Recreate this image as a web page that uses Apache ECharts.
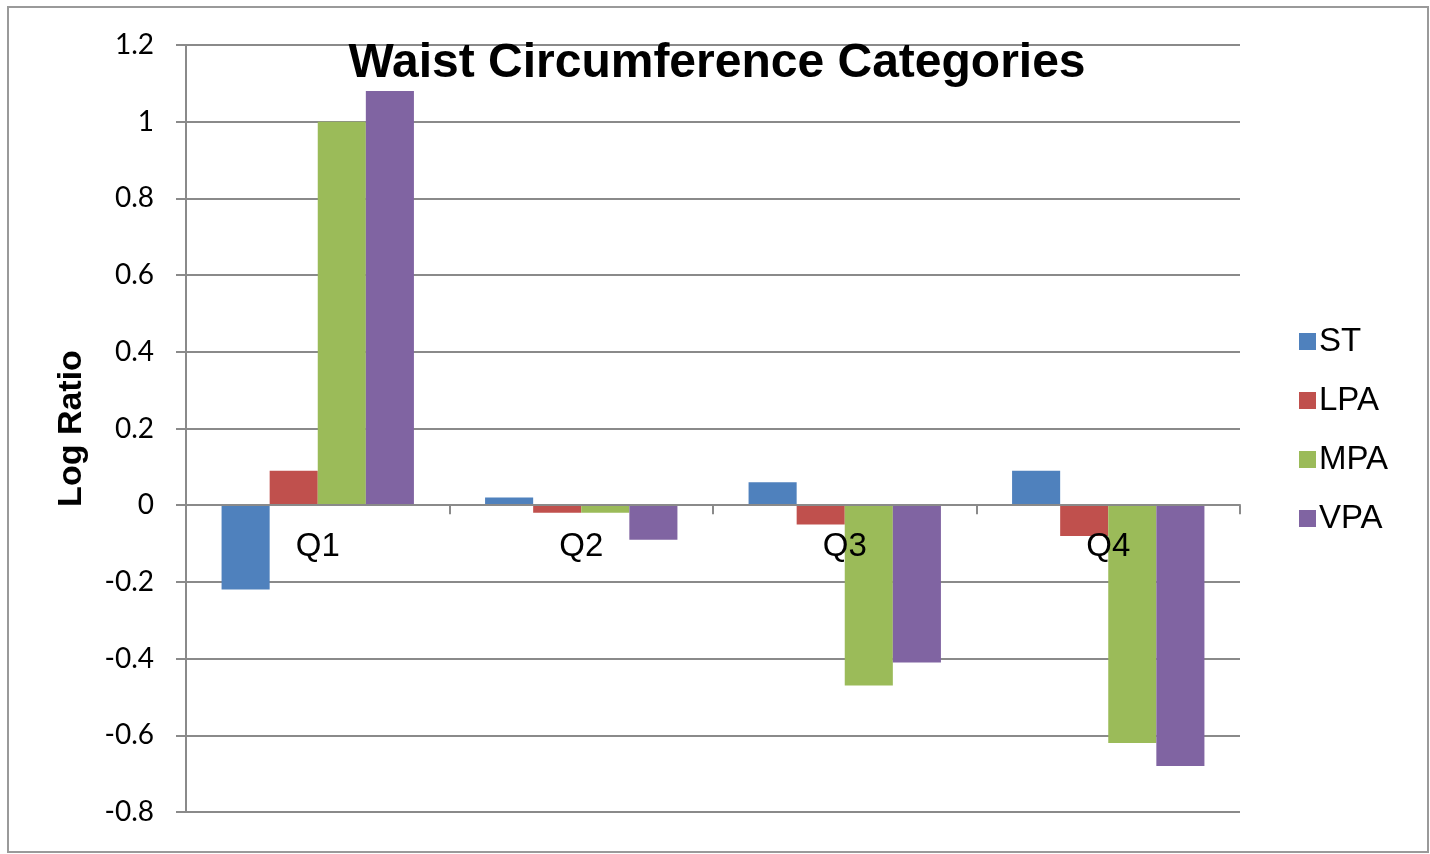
<!DOCTYPE html>
<html>
<head>
<meta charset="utf-8">
<script src="https://cdn.jsdelivr.net/npm/echarts@6/dist/echarts.min.js"></script>
<style>
html, body { margin: 0; padding: 0; background: #fff; }
#chart { width: 1430px; height: 854px; }
</style>
</head>
<body>
<div id="chart"></div>
<script>
var categories = ['Q1', 'Q2', 'Q3', 'Q4'];
var seriesNames = ['ST', 'LPA', 'MPA', 'VPA'];
var stValues = [-0.22, 0.02, 0.06, 0.09];
var lpaValues = [0.09, -0.02, -0.05, -0.08];
var mpaValues = [1.0, -0.02, -0.47, -0.62];
var vpaValues = [1.08, -0.09, -0.41, -0.68];
var colors = ['#4F81BD', '#C0504D', '#9BBB59', '#8064A2'];

var allValues = [stValues, lpaValues, mpaValues, vpaValues];

function bar_series(name, data, color){
    return {
        type: 'bar',
        name: name,
        data: data,
        xAxisIndex: 0,
        barGap: '0%',
        barCategoryGap: '27%',
        itemStyle: { color: color },
        z: 2
    };
}

var chart = echarts.init(document.getElementById('chart'));
var series = [];
for (var i = 0; i < seriesNames.length; i++) {
    series.push(bar_series(seriesNames[i], allValues[i], colors[i]));
}

// grid: 1.2 at y=45, -0.8 at y=812 -> zero sits 307px above the bottom
var zeroOffset = -307;

chart.setOption({
    animation: false,
    title: {
        text: 'Waist Circumference Categories',
        left: 712,
        textAlign: 'center',
        top: 35,
        textStyle: { fontFamily: 'Liberation Sans, Arial', fontWeight: 'bold', fontSize: 48, color: '#000' }
    },
    graphic: [{
        type: 'rect',
        shape: { x: 8, y: 7, width: 1420, height: 845 },
        style: { fill: 'none', stroke: '#9a9a9a', lineWidth: 2 },
        silent: true
    }],
    legend: {
        orient: 'vertical',
        left: 1294,
        top: 320,
        itemWidth: 17,
        itemHeight: 17,
        itemGap: 26,
        icon: 'rect',
        data: seriesNames,
        textStyle: { fontFamily: 'Liberation Sans, Arial', fontSize: 33, color: '#000', padding: [0, 0, 0, -2] }
    },
    grid: { left: 186, right: 190, top: 45, bottom: 42, containLabel: false, outerBoundsMode: 'none' },
    xAxis: [{
        type: 'category',
        data: categories,
        z: 10,
        axisLine: { onZero: true, lineStyle: { color: '#8a8a8a', width: 2 } },
        axisTick: { show: true, length: 9, lineStyle: { color: '#8a8a8a', width: 2 } },
        axisLabel: { show: false }
    }, {
        type: 'category',
        data: categories,
        position: 'bottom',
        offset: zeroOffset,
        z: 10,
        axisLine: { show: false, onZero: false },
        axisTick: { show: false },
        splitLine: { show: false },
        axisLabel: { margin: 25, fontFamily: 'Liberation Sans, Arial', fontSize: 33, color: '#000' }
    }],
    yAxis: {
        type: 'value',
        min: -0.8,
        max: 1.2,
        interval: 0.2,
        name: 'Log Ratio',
        nameLocation: 'middle',
        nameGap: 97,
        nameTextStyle: { fontFamily: 'Liberation Sans, Arial', fontWeight: 'bold', fontSize: 34, color: '#000' },
        axisLine: { show: true, lineStyle: { color: '#8a8a8a', width: 2 } },
        axisTick: { show: true, length: 10, lineStyle: { color: '#8a8a8a', width: 2 } },
        splitLine: { show: true, lineStyle: { color: '#8a8a8a', width: 2 } },
        axisLabel: {
            margin: 32,
            fontFamily: 'Lato, Carlito, Calibri, sans-serif',
            fontSize: 28,
            color: '#000',
            formatter: function (v) { return String(Math.round(v * 10) / 10); }
        }
    },
    series: series
});
</script>
</body>
</html>
